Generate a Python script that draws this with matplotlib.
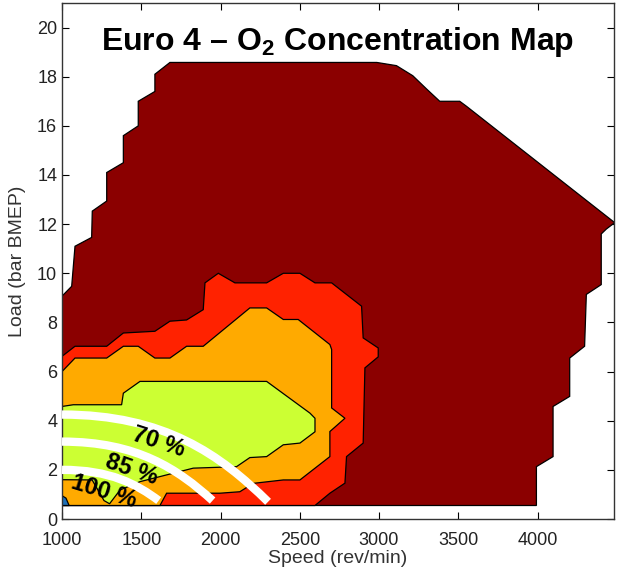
import matplotlib
matplotlib.use("Agg")
import matplotlib.pyplot as plt
from matplotlib.path import Path
from matplotlib.patches import PathPatch

plt.rcParams["font.family"] = ["Liberation Sans", "DejaVu Sans"]
plt.rcParams["mathtext.fontset"] = "custom"
plt.rcParams["mathtext.rm"] = "Liberation Sans"
plt.rcParams["mathtext.bf"] = "Liberation Sans:bold"

# contour outlines (speed in rev/min, load in bar BMEP)
darkred_speed = [1000, 1000, 1061, 1082, 1187, 1191, 1282, 1282, 1387, 1387, 1481, 1481,
                 1586, 1586, 1681, 2986, 3110, 3213, 3300, 3383, 3509, 3551, 4487, 4434,
                 4402, 4402, 4308, 4297, 4203, 4203, 4098, 4098, 3993, 3993]
darkred_load = [0.55, 9.07, 9.47, 11.1, 11.46, 12.53, 12.94, 14.1, 14.5, 15.6, 16.0, 17.0,
                17.4, 18.1, 18.58, 18.58, 18.45, 18.04, 17.5, 17.0, 17.0, 16.8, 12.06, 11.8,
                11.6, 9.54, 9.14, 7.03, 6.55, 4.99, 4.58, 2.54, 2.13, 0.55]

red_speed = [1000, 1000, 1082, 1282, 1387, 1586, 1681, 1786, 1891, 1902, 1986, 2091, 2291,
             2396, 2501, 2596, 2701, 2890, 2900, 2995, 2995, 2911, 2900, 2795, 2785, 2690, 2596]
red_load = [0.55, 6.62, 7.03, 7.03, 7.57, 7.64, 8.05, 8.1, 8.52, 9.61, 10.0, 9.61, 9.61,
            10.0, 10.0, 9.61, 9.61, 8.66, 7.37, 6.96, 6.6, 6.15, 3.09, 2.54, 1.46, 1.05, 0.55]

orange_speed = [1000, 1000, 1082, 1282, 1387, 1481, 1586, 1681, 1786, 1891, 2185, 2291, 2396,
                2490, 2690, 2701, 2701, 2785, 2690, 2690, 2501, 2396, 2206, 2122, 1996, 1660,
                1618]
orange_load = [0.55, 6.0, 6.55, 6.55, 7.03, 7.03, 6.55, 6.55, 7.03, 7.03, 8.59, 8.59, 8.12,
               8.12, 7.1, 6.9, 4.52, 4.1, 3.56, 2.54, 1.59, 1.59, 1.45, 1.11, 1.05, 1.05, 0.55]

green_speed = [1000, 1000, 1071, 1376, 1387, 1492, 2291, 2564, 2596, 2596, 2501, 2396, 2291,
               2185, 2101, 1828, 1492, 1366, 1300, 1265, 1190, 1000]
green_load = [1.6, 4.58, 4.65, 4.65, 5.12, 5.6, 5.6, 4.31, 4.1, 3.55, 3.09, 3.02, 2.54,
              2.5, 2.13, 2.07, 1.52, 1.18, 0.62, 0.75, 1.59, 1.6]

blue_speed = [1000, 1000, 1025, 1045]
blue_load = [0.55, 0.95, 0.85, 0.55]

# reduction arcs: start, two control points, end
arc_names = ["70 %", "85 %", "100 %"]
arc_speed = [[1000, 1650, 2000, 2300],
             [1000, 1475, 1730, 1950],
             [1000, 1305, 1470, 1610]]
arc_load = [[4.25, 4.25, 2.6, 0.7],
            [3.15, 3.15, 2.03, 0.75],
            [2.0, 2.0, 1.42, 0.75]]
label_speed = [1610, 1440, 1265]
label_load = [3.12, 2.0, 1.1]
label_angle = [-18, -19, -17]

fig = plt.figure(figsize=(6.17, 5.74), dpi=100)
ax = fig.add_axes([0.1005, 0.0958, 0.894, 0.899])

fills = [
    (darkred_speed, darkred_load, "#8b0000"),
    (red_speed, red_load, "#ff2200"),
    (orange_speed, orange_load, "#ffaa00"),
    (green_speed, green_load, "#ccff33"),
    (blue_speed, blue_load, "#1f6fb5"),
]
for xs, ys, color in fills:
    ax.fill(xs, ys, facecolor=color, edgecolor="black", linewidth=0.9, zorder=2)

for xs, ys in zip(arc_speed, arc_load):
    verts = list(zip(xs, ys))
    path = Path(verts, [Path.MOVETO, Path.CURVE4, Path.CURVE4, Path.CURVE4])
    ax.add_patch(PathPatch(path, facecolor="none", edgecolor="white", linewidth=6,
                           capstyle="butt", zorder=3))

for name, x, y, ang in zip(arc_names, label_speed, label_load, label_angle):
    ax.text(x, y, name, rotation=ang, ha="center", va="center", fontsize=17,
            fontweight="bold", color="black", zorder=4)

ax.text(0.5, 0.925, r"Euro 4 – O$_\mathbf{2}$ Concentration Map", transform=ax.transAxes,
        ha="center", va="center", fontsize=23, fontweight="bold", color="black", zorder=5)

ax.set_xlim(1000, 4480)
ax.set_ylim(0, 21)
ax.set_xticks(range(1000, 4001, 500))
ax.set_yticks(range(0, 21, 2))
ax.tick_params(direction="in", top=True, right=True, length=5, labelsize=13,
               labelcolor="#222222", width=0.8)
ax.tick_params(axis="x", pad=9)
ax.set_xlabel("Speed (rev/min)", fontsize=14, color="#333333", labelpad=1)
ax.set_ylabel("Load (bar BMEP)", fontsize=14, color="#333333", labelpad=8)
for side in ax.spines.values():
    side.set_linewidth(1.0)
    side.set_color("#333333")

fig.savefig("out.png", dpi=100)
